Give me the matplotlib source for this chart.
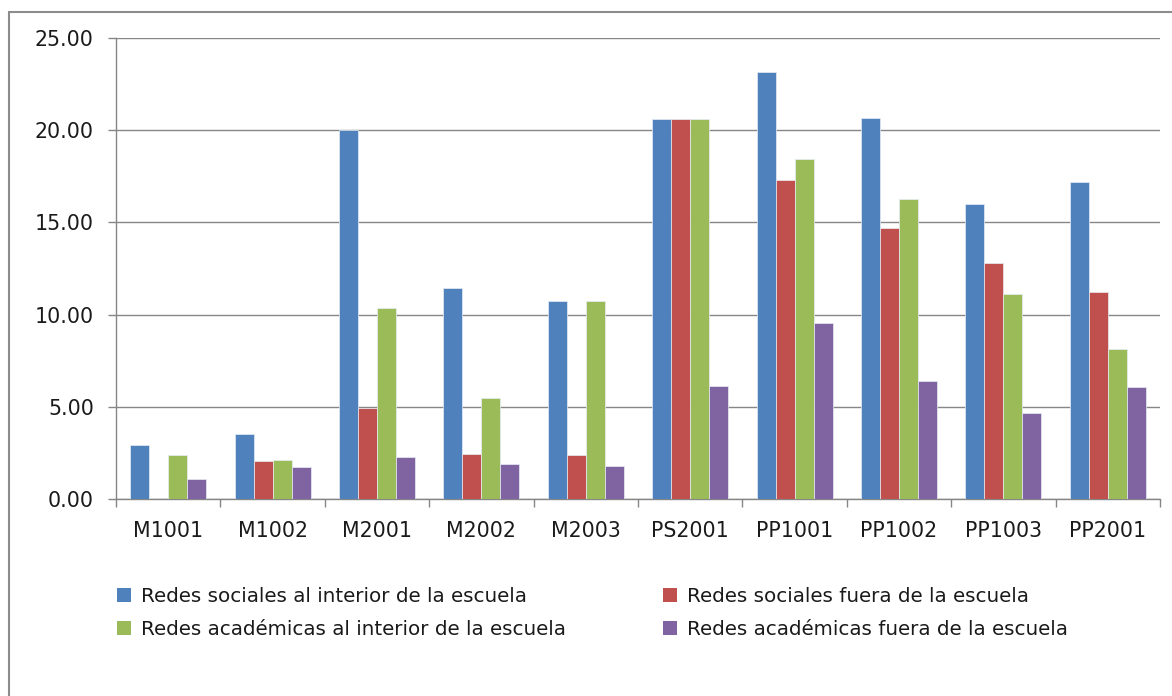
import matplotlib
matplotlib.use("Agg")
import matplotlib.pyplot as plt
import numpy as np
from matplotlib.patches import Rectangle, Patch
from matplotlib.ticker import FormatStrFormatter, FixedLocator

# Categories (groups) and the four series
groups = ["M1001", "M1002", "M2001", "M2002", "M2003",
          "PS2001", "PP1001", "PP1002", "PP1003", "PP2001"]

series_names = [
    "Redes sociales al interior de la escuela",
    "Redes sociales fuera de la escuela",
    "Redes académicas al interior de la escuela",
    "Redes académicas fuera de la escuela",
]

soc_int = [2.92, 3.50, 20.00, 11.42, 10.75, 20.61, 23.13, 20.68, 16.02, 17.19]
soc_ext = [0.00, 2.06, 4.91, 2.46, 2.39, 20.61, 17.32, 14.68, 12.78, 11.21]
aca_int = [2.39, 2.14, 10.35, 5.48, 10.75, 20.61, 18.44, 16.27, 11.13, 8.11]
aca_ext = [1.07, 1.74, 2.26, 1.92, 1.81, 6.14, 9.56, 6.41, 4.64, 6.06]

colors = ["#4F81BD", "#C0504D", "#9BBB59", "#8064A2"]

W, H = 1172, 696
fig = plt.figure(figsize=(W / 100, H / 100), dpi=100)
fig.patch.set_facecolor("white")

left, right, top, bottom = 116, 1160, 38, 499
ax = fig.add_axes([left / W, 1 - bottom / H, (right - left) / W, (bottom - top) / H])

gray = "#868686"
x = np.arange(len(groups))
bw = 1 / 5.5
all_series = [soc_int, soc_ext, aca_int, aca_ext]
for k, (vals, c) in enumerate(zip(all_series, colors)):
    ax.bar(x + (k - 1.5) * bw, vals, width=bw, color=c,
           edgecolor="#e8eef5", linewidth=0.5, zorder=3)

ax.set_xlim(-0.5, len(groups) - 0.5)
ax.set_ylim(0, 25)
ax.set_yticks(np.arange(0, 25.1, 5))
ax.yaxis.set_major_formatter(FormatStrFormatter("%.2f"))
ax.grid(axis="y", color=gray, linewidth=1.0, zorder=0)
ax.set_axisbelow(True)

for s in ("top", "right"):
    ax.spines[s].set_visible(False)
for s in ("left", "bottom"):
    ax.spines[s].set_color(gray)
    ax.spines[s].set_linewidth(1.0)

ax.set_xticks(x)
ax.set_xticklabels(groups)
ax.xaxis.set_minor_locator(FixedLocator(np.arange(-0.5, len(groups), 1.0)))
ax.tick_params(axis="x", which="major", length=0, pad=15.5, labelsize=14.8,
               labelcolor="#1a1a1a")
ax.tick_params(axis="x", which="minor", length=6, width=1.0, color=gray,
               direction="out")
ax.tick_params(axis="y", length=6, width=1.0, color=gray, pad=10,
               labelsize=14.8, labelcolor="#1a1a1a")

# Legend in two columns below the plot
handles = [Patch(facecolor=c, edgecolor="none") for c in colors]
leg_kw = dict(frameon=False, fontsize=14.3, handlelength=0.7,
              handleheight=0.7, handletextpad=0.5, labelspacing=0.72,
              borderpad=0, borderaxespad=0, loc="upper left",
              bbox_transform=fig.transFigure, labelcolor="#1a1a1a")
leg1 = fig.legend([handles[0], handles[2]], [series_names[0], series_names[2]],
                  bbox_to_anchor=(117 / W, 1 - 587 / H), **leg_kw)
leg2 = fig.legend([handles[1], handles[3]], [series_names[1], series_names[3]],
                  bbox_to_anchor=(663 / W, 1 - 587 / H), **leg_kw)

# Chart frame
fig.add_artist(Rectangle((9 / W, -0.05), 1.2, (H - 12) / H + 0.05,
                         transform=fig.transFigure, fill=False,
                         edgecolor="#8c8c8c", linewidth=1.5, clip_on=False))

fig.savefig("out.png", dpi=100)
